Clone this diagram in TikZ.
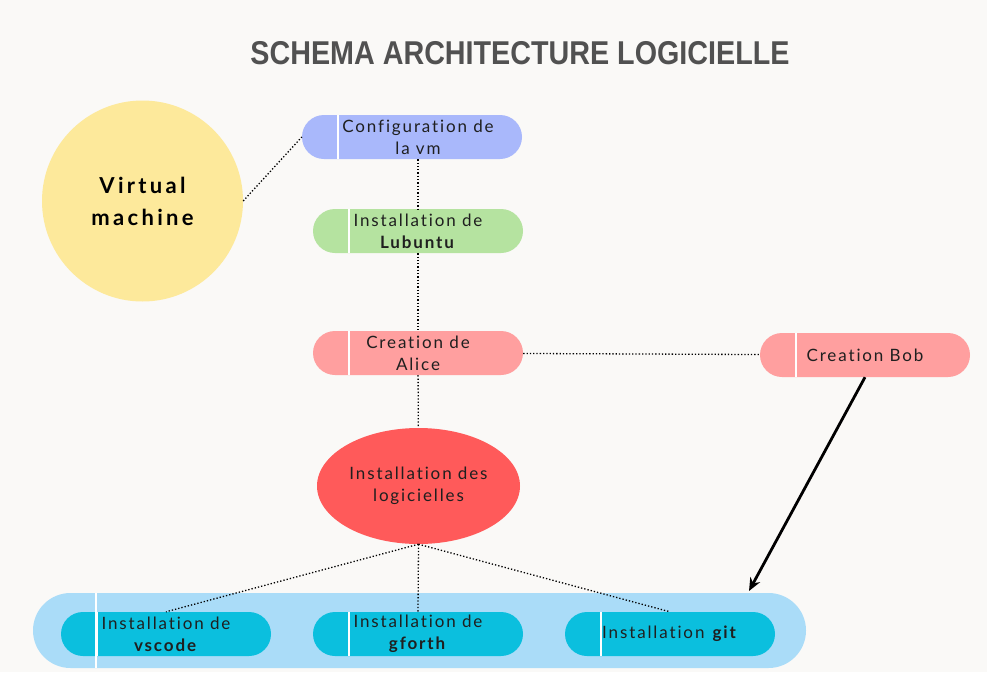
\documentclass[tikz,border=0pt]{standalone}
\usepackage{fontspec}
\setmainfont{Lato}[LetterSpace=11,Ligatures=NoCommon]
\newfontfamily\titlefont{Liberation Sans}[FakeStretch=0.87]
\newfontfamily\vmfont{Lato}[LetterSpace=15,Ligatures=NoCommon]
\usetikzlibrary{shapes.geometric,arrows.meta}
\definecolor{bgcol}{HTML}{FAF9F7}
\definecolor{titlecol}{HTML}{515151}
\definecolor{vmcol}{HTML}{FDE99B}
\definecolor{confcol}{HTML}{A9B8FB}
\definecolor{lubcol}{HTML}{B5E3A0}
\definecolor{usercol}{HTML}{FF9F9F}
\definecolor{logcol}{HTML}{FF5A5A}
\definecolor{outcol}{HTML}{AADCF8}
\definecolor{pkgcol}{HTML}{0BBFDE}
\begin{document}
\begin{tikzpicture}[x=1pt,y=-1pt,
  pill/.style={rounded corners=22pt,minimum width=210pt,minimum height=44pt,
    align=center,inner sep=0pt,text=black!88,font=\fontsize{17}{22}\selectfont},
  link/.style={dotted,line width=1.3pt}]
\fill[bgcol] (0,0) rectangle (987,672);
\useasboundingbox (0,0) rectangle (987,672);
\node[text=titlecol,font=\titlefont\bfseries\fontsize{33}{36}\selectfont] (title) at (520,53) {SCHEMA ARCHITECTURE LOGICIELLE};
\node[circle,fill=vmcol,minimum size=201pt,inner sep=0pt,align=center,
  font=\vmfont\bfseries\fontsize{22}{32}\selectfont] (vm) at (142.5,201) {Virtual\\machine};
\node[pill,fill=confcol,minimum width=220pt] (conf) at (412,137) {\hspace*{12pt}Configuration de\\\hspace*{12pt}la vm};
\node[pill,fill=lubcol] (lub) at (418,231) {Installation de\\\textbf{Lubuntu}};
\node[pill,fill=usercol] (alice) at (418,353) {Creation de\\Alice};
\node[pill,fill=usercol] (bob) at (865,355) {Creation Bob};
\node[ellipse,fill=logcol,minimum width=203pt,minimum height=116pt,inner sep=0pt,align=center,
  text=black!88,font=\fontsize{17}{22}\selectfont] (logi) at (418.5,486) {Installation des\\logicielles};
\node[pill,fill=outcol,minimum width=773pt,minimum height=75pt,rounded corners=37.5pt] (tools) at (419.5,630.5) {};
\foreach \n/\x/\t in {vscode/166/{Installation de\\\textbf{vscode}},gforth/418/{Installation de\\\textbf{gforth}},git/670/{Installation \textbf{git}}}
  \node[pill,fill=pkgcol] (\n) at (\x,634) {\t};
% separateurs blancs
\foreach \n in {conf,lub,alice,bob,vscode,gforth,git}
  \draw[white,line width=1.5pt] ([xshift=36pt]\n.north west) -- ([xshift=36pt]\n.south west);
\draw[white,line width=1.5pt] ([xshift=63pt]tools.north west) -- ([xshift=63pt]tools.south west);
% liens
\draw[link] (vm.east) -- (conf.west);
\draw[link] (lub.north |- conf.south) -- (lub.north);
\draw[link] (lub) -- (alice);
\draw[link] (alice) -- (logi);
\draw[link] (alice) -- (bob);
\foreach \n in {vscode,gforth,git}
  \draw[link] (logi.south) -- (\n.north);
\coordinate (bobend) at (749,591);
\draw[line width=2.8pt,-{Stealth[length=13pt,width=11pt]}] (bob.south) -- (bobend);
\end{tikzpicture}
\end{document}
